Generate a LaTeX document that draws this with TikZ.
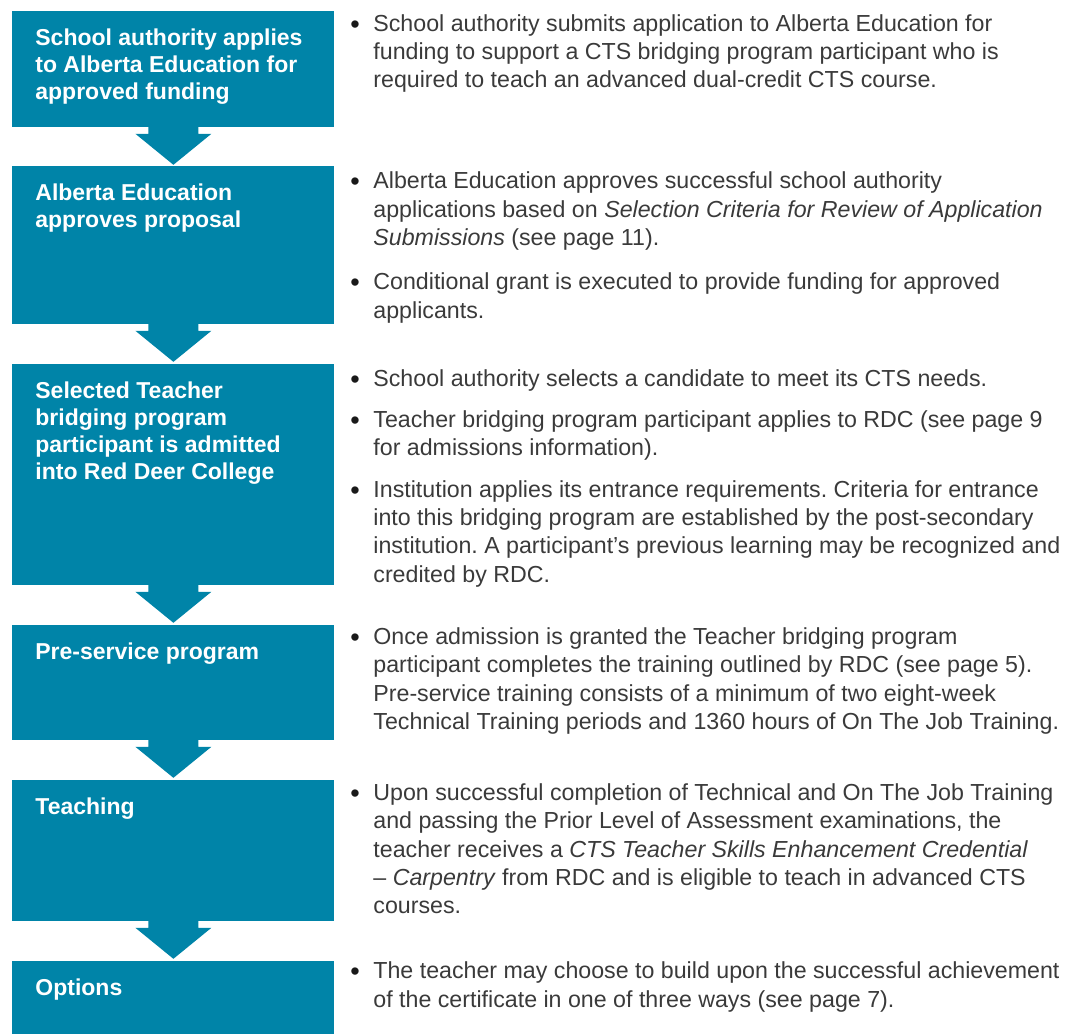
\documentclass[tikz,border=0pt]{standalone}
\usepackage{fontspec}
\setmainfont{Liberation Sans}
\frenchspacing
\usetikzlibrary{calc,positioning}
\definecolor{stageteal}{RGB}{0,132,168}
\definecolor{notegray}{RGB}{58,58,58}
\tikzset{
    flow chart/.style = {x=0.5pt, y=-0.5pt},
    stage/.style      = {fill=stageteal, anchor=north west, inner sep=0pt,
                         minimum width=161pt},
    stage text/.style = {text=white, anchor=north west, align=left,
                         inner sep=0pt,
                         font=\fontsize{11.5pt}{13.5pt}\selectfont\bfseries},
    note/.style       = {text=notegray, anchor=north west, align=left,
                         inner sep=0pt,
                         font=\fontsize{11.6pt}{14.17pt}\selectfont},
    item dot/.style   = {text=black!90, anchor=base, inner sep=0pt,
                         font=\fontsize{13.5pt}{14.17pt}\selectfont},
    chevron/.style    = {fill=stageteal}
}
% first line of every text gets a fixed 10pt height, so the top edge
% sits 20 units above its baseline
\newcommand{\flowstage}[4]{%
    \node[stage, minimum height=#3*0.5pt] (#1) at (12,#2) {};
    \node[stage text] (#1-text) at ($(#1.north west)+(23,14)$)
        {\rule{0pt}{10pt}#4};
}
\newcommand{\stagearrow}[1]{%
    \fill[chevron] ($(#1.south)+(-25,-1)$) -- ++(0,7) -- ++(-13,0)
        -- ++(38,31) -- ++(38,-31) -- ++(-13,0) -- ++(0,-7) -- cycle;
}
\newcommand{\noteitem}[3]{%
    \node[item dot] (#1-dot) at (355,#2+2.5) {\textbullet};
    \node[note] (#1) at ($(#1-dot.base)+(18,-22.5)$) {\rule{0pt}{10pt}#3};
}

\begin{document}
\begin{tikzpicture}[flow chart]
\useasboundingbox (0,0) rectangle (1066,1034);

% Stages down the left-hand column.
\flowstage{apply}{11}{116}{School authority applies\\ to Alberta Education for\\ approved funding}
\flowstage{approve}{166}{158}{Alberta Education\\ approves proposal}
\flowstage{admit}{364}{221}{Selected Teacher\\ bridging program\\ participant is admitted\\ into Red Deer College}
\flowstage{preservice}{625}{115}{Pre-service program}
\flowstage{teach}{780}{141}{Teaching}
\flowstage{options}{961}{73}{Options}

% Chevrons from each stage to the next.
\stagearrow{apply}
\stagearrow{approve}
\stagearrow{admit}
\stagearrow{preservice}
\stagearrow{teach}

% Notes for each stage.
\noteitem{submit}{30.7}{School authority submits application to Alberta Education for\\
    funding to support a CTS bridging program participant who is\\
    required to teach an advanced dual-credit CTS course.}
\noteitem{review}{188.3}{Alberta Education approves successful school authority\\
    applications based on \textit{Selection Criteria for Review of Application}\\
    \textit{Submissions} (see page 11).}
\noteitem{grant}{289.3}{Conditional grant is executed to provide funding for approved\\
    applicants.}
\noteitem{select}{386}{School authority selects a candidate to meet its CTS needs.}
\noteitem{applyrdc}{426.7}{Teacher bridging program participant applies to RDC (see page 9\\
    for admissions information).}
\noteitem{entrance}{496.7}{Institution applies its entrance requirements. Criteria for entrance\\
    into this bridging program are established by the post-secondary\\
    institution. A participant’s previous learning may be recognized and\\
    credited by RDC.}
\noteitem{training}{644}{Once admission is granted the Teacher bridging program\\
    participant completes the training outlined by RDC (see page 5).\\
    Pre-service training consists of a minimum of two eight-week\\
    Technical Training periods and 1360 hours of On The Job Training.}
\noteitem{credential}{800}{Upon successful completion of Technical and On The Job Training\\
    and passing the Prior Level of Assessment examinations, the\\
    teacher receives a \textit{CTS Teacher Skills Enhancement Credential}\\
    – \textit{Carpentry} from RDC and is eligible to teach in advanced CTS\\
    courses.}
\noteitem{pathways}{978.3}{The teacher may choose to build upon the successful achievement\\
    of the certificate in one of three ways (see page 7).}

\end{tikzpicture}
\end{document}
